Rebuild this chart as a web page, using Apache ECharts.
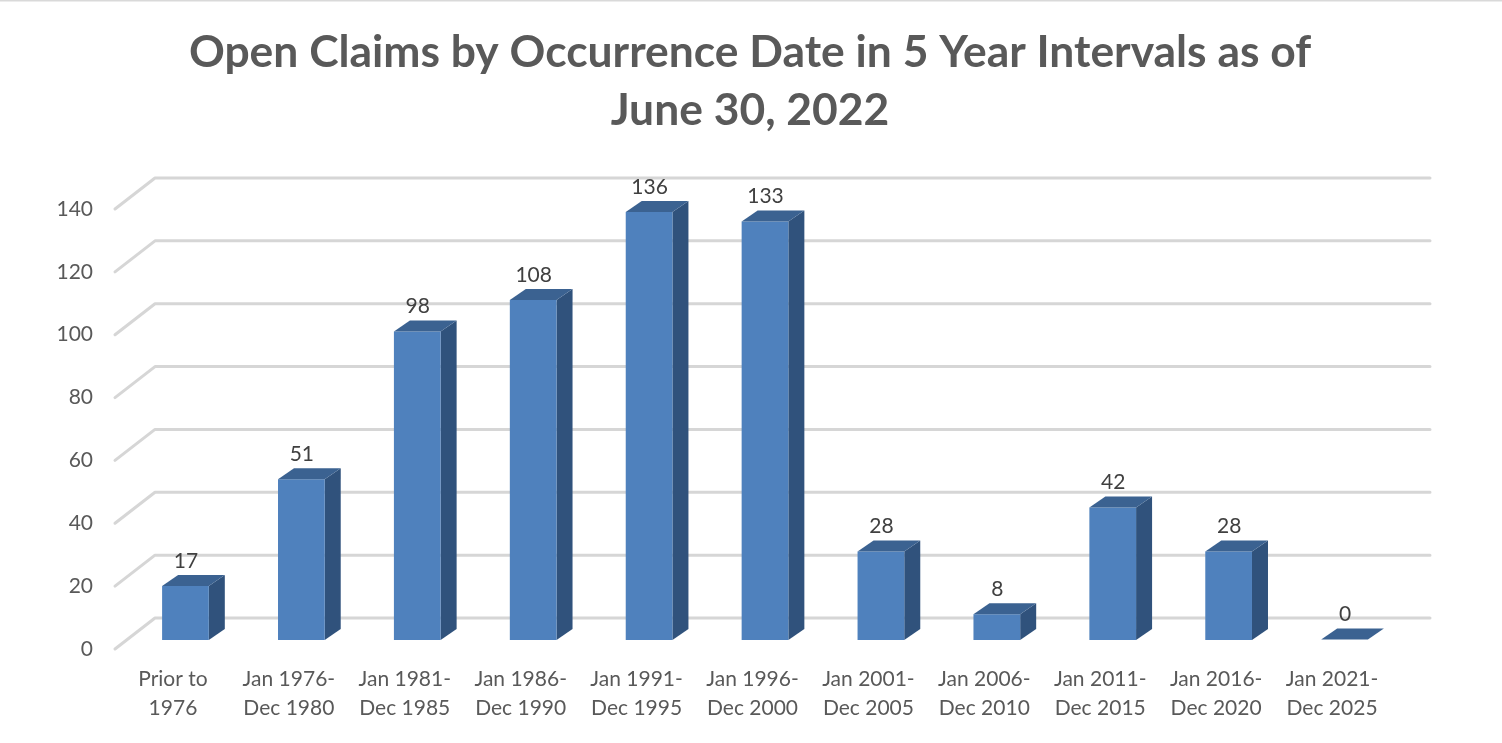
<!DOCTYPE html>
<html><head><meta charset="utf-8">
<style>html,body{margin:0;padding:0;background:#fff}#c{width:1502px;height:743px}</style>
<script src="https://cdn.jsdelivr.net/npm/echarts@6/dist/echarts.min.js"></script>
</head><body><div id="c"></div>
<script>
const categories = ['Prior to\n1976','Jan 1976-\nDec 1980','Jan 1981-\nDec 1985','Jan 1986-\nDec 1990','Jan 1991-\nDec 1995','Jan 1996-\nDec 2000','Jan 2001-\nDec 2005','Jan 2006-\nDec 2010','Jan 2011-\nDec 2015','Jan 2016-\nDec 2020','Jan 2021-\nDec 2025'];
const claims = [17,51,98,108,136,133,28,8,42,28,0];
const gridValues = [0,20,40,60,80,100,120,140];
const chartTitle = 'Open Claims by Occurrence Date in 5 Year Intervals as of\nJune 30, 2022';

const chart = echarts.init(document.getElementById('c'), null, {renderer:'canvas'});
const FONT = 'Lato';
chart.setOption({
  animation:false,
  backgroundColor:'#fff',
  title:{text:chartTitle,left:745,top:19,textAlign:'center',
    textStyle:{fontFamily:FONT,fontWeight:'bold',fontSize:44.4,lineHeight:58,color:'#595959'}},
  graphic:[{type:'rect',shape:{x:0,y:0,width:1502,height:1.5},style:{fill:'#d9d9d9'},silent:true}],
  grid:{left:115,right:112,top:209,bottom:94},
  xAxis:{type:'category',data:categories,axisLine:{show:false},axisTick:{show:false},
    axisLabel:{fontFamily:FONT,fontSize:21,lineHeight:29,color:'#595959',margin:16,interval:0}},
  yAxis:{type:'value',min:0,max:140,interval:20,axisLine:{show:false},axisTick:{show:false},splitLine:{show:false},
    axisLabel:{fontFamily:FONT,fontSize:21,color:'#595959',margin:22}},
  series:[
    {type:'custom',coordinateSystem:'cartesian2d',z:1,silent:true,clip:false,
     data:gridValues.map(v=>[0,v]),
     renderItem(params,api){
       const cs=params.coordSys, y=api.coord([0,api.value(1)])[1], x=cs.x;
       return {type:'polyline',shape:{points:[[x,y],[x+40,y-31],[x+1315,y-31]]},
         style:{stroke:'#d6d6d6',lineWidth:3,fill:null,lineJoin:'round',lineCap:'round'}};
     }},
    {type:'custom',coordinateSystem:'cartesian2d',z:2,silent:true,clip:false,
     data:claims.map((v,i)=>[i,v]),
     renderItem(params,api){
       const v=api.value(1), c=api.coord([api.value(0),v]), b=api.coord([api.value(0),0]);
       const w=api.size([1,0])[0]*0.403, dx=16, dy=11;
       const x0=c[0]+12.5-w/2, x1=x0+w, yT=c[1]-9.5, yB=b[1]-9;
       const kids=[];
       if(yB-yT>1){
         kids.push({type:'polygon',shape:{points:[[x1,yT],[x1+dx,yT-dy],[x1+dx,yB-dy],[x1,yB]]},style:{fill:'#30527c'}});
         kids.push({type:'rect',shape:{x:x0,y:yT,width:w,height:yB-yT},style:{fill:'#4f81bd'}});
       }
       kids.push({type:'polygon',shape:{points:[[x0,yT],[x1,yT],[x1+dx,yT-dy],[x0+dx,yT-dy]]},style:{fill:'#3b6291'}});
       kids.push({type:'text',z2:10,style:{text:String(v),x:x0+w/2+0.5,y:yT-25,align:'center',verticalAlign:'middle',
         fontFamily:FONT,fontSize:21,fill:'#404040'}});
       return {type:'group',children:kids};
     }}
  ]
});
</script></body></html>
